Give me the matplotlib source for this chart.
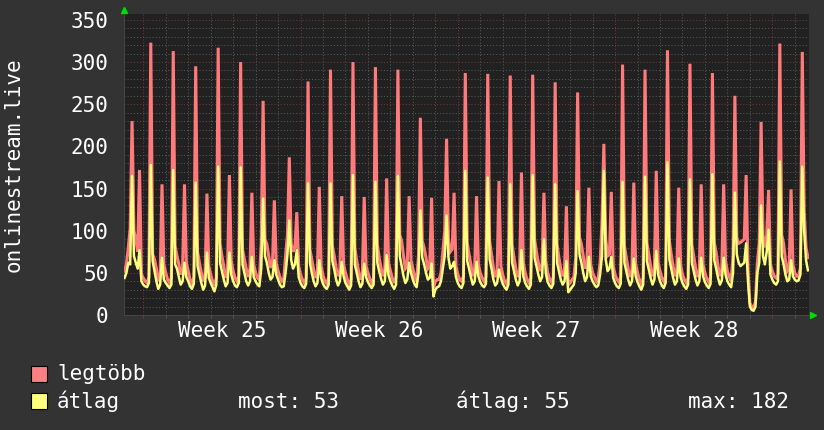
import matplotlib
matplotlib.use("Agg")
import matplotlib.pyplot as plt
import numpy as np
from matplotlib.patches import Rectangle
from matplotlib.ticker import FixedLocator, MultipleLocator
from matplotlib.transforms import blended_transform_factory

# samples every 2 hours, hour 0 = monday of week 25
hours = np.arange(-20, 711, 2)

# atlag (average) per week, one row per day (0h,2h,...,22h)
avg_w24 = [44, 50, 62, 60, 165, 70, 62, 55, 77, 40]  # sunday from 4h
avg_w25 = [
    36, 34, 33, 38, 178, 64, 52, 40, 31, 36, 68, 42,
    38, 35, 32, 36, 172, 60, 55, 45, 36, 40, 62, 45,
    40, 34, 31, 37, 157, 58, 48, 38, 30, 35, 74, 44,
    38, 33, 28, 36, 176, 62, 52, 42, 34, 38, 74, 48,
    40, 35, 33, 38, 175, 60, 50, 40, 35, 40, 69, 45,
    40, 36, 34, 55, 138, 70, 62, 50, 42, 45, 65, 48,
    42, 36, 33, 34, 50, 72, 112, 65, 55, 60, 77, 45,
]
avg_w26 = [
    38, 34, 32, 37, 156, 62, 50, 40, 34, 38, 65, 44,
    37, 33, 31, 36, 156, 64, 54, 42, 35, 40, 63, 46,
    38, 34, 30, 35, 166, 60, 50, 40, 33, 37, 61, 45,
    39, 35, 32, 36, 158, 62, 52, 43, 36, 40, 71, 47,
    40, 35, 31, 36, 165, 70, 58, 46, 38, 42, 62, 50,
    42, 36, 33, 50, 124, 68, 60, 50, 42, 44, 61, 22,
    30, 33, 34, 40, 55, 70, 118, 68, 55, 58, 63, 45,
]
avg_w27 = [
    38, 34, 32, 38, 171, 64, 55, 45, 36, 40, 63, 46,
    39, 35, 33, 37, 163, 66, 55, 42, 35, 38, 54, 44,
    37, 33, 30, 36, 155, 62, 52, 42, 35, 40, 77, 46,
    38, 34, 31, 36, 166, 68, 58, 48, 40, 45, 90, 50,
    39, 35, 32, 37, 155, 62, 52, 42, 36, 40, 64, 27,
    30, 33, 36, 50, 147, 72, 62, 50, 40, 45, 69, 46,
    40, 36, 33, 35, 48, 70, 171, 66, 52, 55, 69, 44,
]
avg_w28 = [
    38, 34, 32, 37, 158, 62, 52, 42, 35, 40, 67, 46,
    39, 34, 30, 36, 164, 64, 54, 44, 36, 42, 76, 48,
    40, 35, 32, 38, 181, 66, 55, 44, 36, 40, 67, 45,
    38, 34, 31, 36, 161, 62, 52, 42, 35, 40, 68, 46,
    39, 35, 32, 37, 167, 65, 55, 44, 36, 41, 68, 48,
    40, 36, 33, 50, 145, 72, 62, 58, 60, 62, 85, 40,
    10, 6, 5, 10, 50, 62, 130, 70, 60, 75, 101, 48,
]
avg_w29 = [
    42, 38, 36, 40, 182, 70, 60, 48, 40, 42, 65, 46,
    42, 40, 41, 48, 176, 100, 65, 53,
]

# legtobb (max) per week
max_w24 = [52, 60, 80, 103, 230, 100, 90, 75, 172, 48]
max_w25 = [
    44, 40, 38, 45, 323, 72, 66, 55, 40, 46, 155, 60,
    50, 42, 38, 44, 313, 82, 70, 60, 48, 55, 155, 62,
    52, 42, 37, 45, 295, 75, 62, 50, 40, 45, 144, 58,
    48, 40, 35, 44, 317, 85, 70, 58, 44, 52, 166, 64,
    52, 44, 40, 46, 300, 78, 66, 55, 45, 55, 145, 60,
    50, 44, 42, 85, 254, 90, 84, 70, 56, 60, 136, 62,
    52, 45, 40, 42, 70, 95, 187, 85, 75, 80, 122, 58,
]
max_w26 = [
    48, 42, 38, 44, 277, 78, 66, 54, 44, 50, 152, 58,
    47, 40, 37, 45, 291, 82, 70, 56, 46, 52, 141, 60,
    50, 42, 36, 42, 300, 80, 64, 52, 42, 48, 140, 58,
    50, 43, 38, 44, 294, 84, 68, 56, 46, 54, 162, 62,
    52, 44, 38, 45, 291, 95, 88, 70, 55, 58, 141, 65,
    55, 45, 40, 70, 234, 88, 80, 68, 55, 58, 139, 32,
    40, 42, 42, 50, 75, 100, 209, 90, 75, 78, 145, 58,
]
max_w27 = [
    48, 42, 40, 46, 287, 86, 72, 60, 46, 52, 141, 60,
    50, 44, 40, 45, 286, 88, 72, 56, 45, 50, 159, 58,
    48, 40, 37, 44, 284, 84, 68, 55, 45, 52, 169, 62,
    50, 42, 38, 44, 285, 90, 75, 62, 52, 60, 145, 64,
    50, 43, 39, 45, 276, 84, 68, 55, 46, 52, 129, 36,
    38, 42, 45, 68, 264, 92, 84, 70, 55, 60, 151, 60,
    50, 45, 40, 44, 62, 110, 203, 90, 70, 72, 146, 58,
]
max_w28 = [
    48, 42, 39, 45, 297, 82, 68, 55, 45, 52, 157, 60,
    50, 42, 37, 44, 291, 86, 72, 58, 46, 54, 171, 62,
    52, 44, 40, 46, 314, 88, 72, 58, 46, 52, 151, 60,
    48, 42, 38, 44, 298, 84, 70, 56, 45, 52, 155, 60,
    50, 43, 39, 45, 287, 86, 74, 58, 46, 54, 155, 64,
    52, 45, 40, 70, 260, 92, 85, 86, 88, 90, 166, 55,
    14, 10, 8, 16, 62, 85, 229, 95, 80, 95, 148, 60,
]
max_w29 = [
    52, 46, 44, 48, 322, 95, 85, 65, 52, 55, 149, 60,
    50, 46, 46, 56, 312, 125, 80, 68,
]

week_names = ["Week 25", "Week 26", "Week 27", "Week 28"]
legend_stats = ["most: 53", "átlag: 55", "max: 182"]

avg = avg_w24 + avg_w25 + avg_w26 + avg_w27 + avg_w28 + avg_w29
mx = max_w24 + max_w25 + max_w26 + max_w27 + max_w28 + max_w29

BG = "#333333"
CANVAS = "#212121"
RED = "#ff7b7b"
YEL = "#ffff7b"
MGRID = "#7a3434"
GRID = "#585858"
MONO = "DejaVu Sans Mono"
FS = 15

W, H = 824, 430
fig = plt.figure(figsize=(W / 100, H / 100), dpi=100, facecolor=BG)
ax = fig.add_axes([124 / W, 1 - 315 / H, 685.5 / W, 301 / H])
ax.set_facecolor(CANVAS)

ax.plot(hours, mx, color=RED, lw=2.2, zorder=3, solid_joinstyle="miter")
ax.plot(hours, avg, color=YEL, lw=1.8, zorder=4)

ax.set_xlim(-20.6, 711.7)
ax.set_ylim(0, 357)

ax.set_yticks(np.arange(0, 351, 50))
ax.yaxis.set_minor_locator(MultipleLocator(10))
ax.xaxis.set_major_locator(FixedLocator(np.arange(0, 700, 168)))
ax.xaxis.set_minor_locator(MultipleLocator(24))
ax.set_xticklabels([])

dots = (0, (1, 2))
ax.grid(which="major", color=MGRID, ls=dots, lw=0.75)
ax.grid(which="minor", color=GRID, ls=dots, lw=0.75)
ax.set_axisbelow(True)

ax.tick_params(axis="y", which="major", colors="white", labelsize=FS,
               length=0, pad=11)
ax.tick_params(axis="y", which="minor", length=0)
ax.tick_params(axis="x", which="major", color=MGRID, length=2.5, width=0.75)
ax.tick_params(axis="x", which="minor", color=GRID, length=2.5, width=0.75)
for lab in ax.get_yticklabels():
    lab.set_fontfamily(MONO)

for s in ["top", "right"]:
    ax.spines[s].set_visible(False)
for s in ["left", "bottom"]:
    ax.spines[s].set_color("#454545")
    ax.spines[s].set_linewidth(0.75)

# week labels in the middle of each week
tr = blended_transform_factory(ax.transData, ax.transAxes)
for i, name in enumerate(week_names):
    ax.text(84 + 168 * i, -16 / 301, name, transform=tr, ha="center",
            va="center", color="white", fontsize=FS, family=MONO)

# small green arrows at the axis ends
ax.plot([0], [1.0 + 4 / 301], marker="^", color="#00dd00", ms=5,
        transform=ax.transAxes, clip_on=False)
ax.plot([1.0 + 4 / 685.5], [0], marker=">", color="#00dd00", ms=5,
        transform=ax.transAxes, clip_on=False)

fig.text(14 / W, 1 - 165 / H, "onlinestream.live", rotation=90,
         ha="center", va="center", color="white", fontsize=FS, family=MONO)

# legend
for y0, col, name in [(365.5, "#ff8080", "legtöbb"), (393, "#ffff80", "átlag")]:
    fig.patches.append(Rectangle((31.5 / W, 1 - (y0 + 16) / H), 15.5 / W, 16 / H,
                                 transform=fig.transFigure, facecolor=col,
                                 edgecolor="black", lw=0.8))
    fig.text(57 / W, 1 - (y0 + 8.5) / H, name, ha="left", va="center",
             color="white", fontsize=FS, family=MONO)

for xs, txt in zip([238, 456, 688], legend_stats):
    fig.text(xs / W, 1 - 401.5 / H, txt, ha="left", va="center",
             color="white", fontsize=FS, family=MONO)

fig.savefig("out.png", dpi=100, facecolor=BG)
